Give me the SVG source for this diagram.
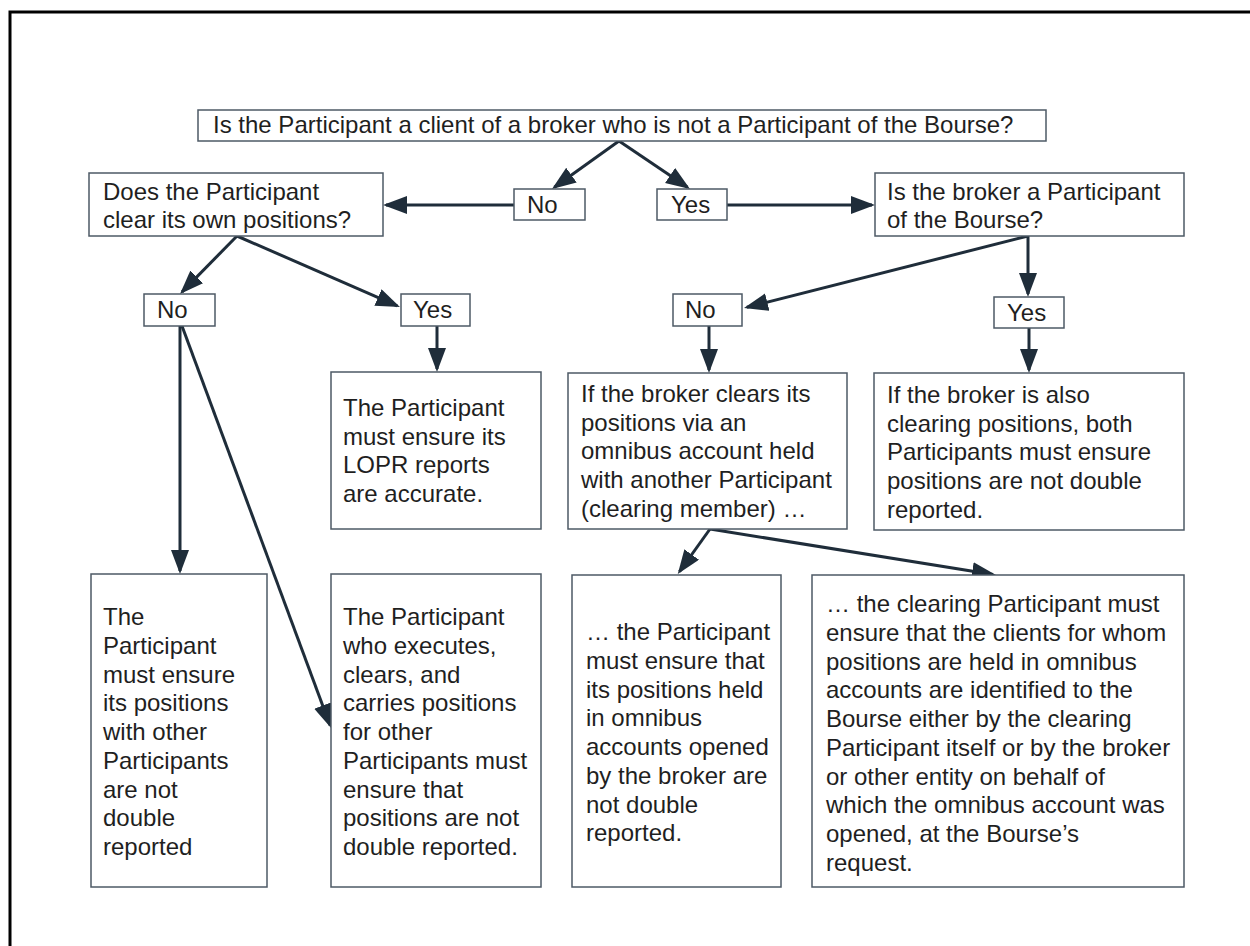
<svg xmlns="http://www.w3.org/2000/svg" width="1250" height="946" viewBox="0 0 1250 946">
<style>
.box{fill:#fff;stroke:#4d5a66;stroke-width:1.5}
.t{font-family:"Liberation Sans",Arial,sans-serif;font-size:24px;fill:#1f1f1f}
.c{fill:none;stroke:#1f2d3a;stroke-width:3}
</style>
<defs>
<marker id="ah" markerUnits="userSpaceOnUse" markerWidth="26" markerHeight="20" refX="21" refY="9" orient="auto">
<path d="M0,0 L24,9 L0,18 z" fill="#1f2d3a"/>
</marker>
</defs>
<rect x="0" y="0" width="1250" height="946" fill="#fff"/>
<rect x="10" y="12" width="1260" height="960" fill="none" stroke="#000" stroke-width="3"/>

<g id="connectors">
<line class="c" x1="619" y1="141" x2="554.4" y2="187.3" marker-end="url(#ah)"/>
<line class="c" x1="619" y1="141" x2="687.5" y2="187.3" marker-end="url(#ah)"/>
<line class="c" x1="514" y1="205" x2="386" y2="205" marker-end="url(#ah)"/>
<line class="c" x1="727" y1="205" x2="872" y2="205" marker-end="url(#ah)"/>
<line class="c" x1="1028" y1="236" x2="1028" y2="294" marker-end="url(#ah)"/>
<line class="c" x1="1028" y1="236" x2="746.9" y2="307.3" marker-end="url(#ah)"/>
<line class="c" x1="1029" y1="328" x2="1029" y2="370" marker-end="url(#ah)"/>
<line class="c" x1="709" y1="326" x2="709" y2="370" marker-end="url(#ah)"/>
<line class="c" x1="237" y1="236" x2="182.1" y2="291.9" marker-end="url(#ah)"/>
<line class="c" x1="237" y1="236" x2="397.2" y2="305.8" marker-end="url(#ah)"/>
<line class="c" x1="437" y1="326" x2="437" y2="369" marker-end="url(#ah)"/>
<line class="c" x1="180" y1="326" x2="180" y2="571" marker-end="url(#ah)"/>
<line class="c" x1="182" y1="326" x2="330" y2="725.2" marker-end="url(#ah)"/>
<line class="c" x1="710" y1="529" x2="679.5" y2="571.6" marker-end="url(#ah)"/>
<line class="c" x1="710" y1="529" x2="993" y2="574.5" marker-end="url(#ah)"/>
</g>

<g id="q-top">
<rect class="box" x="198" y="110" width="848" height="31"/>
<text class="t" x="213" y="133">Is the Participant a client of a broker who is not a Participant of the Bourse?</text>
</g>

<g id="label-no-top">
<rect class="box" x="514" y="189" width="71" height="31"/>
<text class="t" x="527" y="213">No</text>
</g>
<g id="label-yes-top">
<rect class="box" x="657" y="189" width="70" height="31"/>
<text class="t" x="671" y="213">Yes</text>
</g>

<g id="q-clear">
<rect class="box" x="89" y="173" width="294" height="63"/>
<text class="t" x="103" y="200">Does the Participant<tspan x="103" dy="28">clear its own positions?</tspan></text>
</g>

<g id="q-broker">
<rect class="box" x="875" y="173" width="309" height="63"/>
<text class="t" x="887" y="200">Is the broker a Participant<tspan x="887" dy="28">of the Bourse?</tspan></text>
</g>

<g id="label-no-left">
<rect class="box" x="144" y="294" width="71" height="32"/>
<text class="t" x="157" y="318">No</text>
</g>
<g id="label-yes-left">
<rect class="box" x="401" y="294" width="69" height="32"/>
<text class="t" x="413" y="318">Yes</text>
</g>
<g id="label-no-right">
<rect class="box" x="673" y="294" width="69" height="32"/>
<text class="t" x="685" y="318">No</text>
</g>
<g id="label-yes-right">
<rect class="box" x="994" y="297" width="70" height="31"/>
<text class="t" x="1007" y="321">Yes</text>
</g>

<g id="r-lopr">
<rect class="box" x="331" y="372" width="210" height="157"/>
<text class="t" x="343" y="416">The Participant<tspan x="343" dy="28.7">must ensure its</tspan><tspan x="343" dy="28.7">LOPR reports</tspan><tspan x="343" dy="28.7">are accurate.</tspan></text>
</g>

<g id="q-omnibus">
<rect class="box" x="568" y="373" width="279" height="156"/>
<text class="t" x="581" y="402">If the broker clears its<tspan x="581" dy="28.7">positions via an</tspan><tspan x="581" dy="28.7">omnibus account held</tspan><tspan x="581" dy="28.7">with another Participant</tspan><tspan x="581" dy="28.7">(clearing member) …</tspan></text>
</g>

<g id="r-also-clearing">
<rect class="box" x="874" y="373" width="310" height="157"/>
<text class="t" x="887" y="403">If the broker is also<tspan x="887" dy="28.7">clearing positions, both</tspan><tspan x="887" dy="28.7">Participants must ensure</tspan><tspan x="887" dy="28.7">positions are not double</tspan><tspan x="887" dy="28.7">reported.</tspan></text>
</g>

<g id="r-own">
<rect class="box" x="91" y="574" width="176" height="313"/>
<text class="t" x="103" y="625">The<tspan x="103" dy="28.75">Participant</tspan><tspan x="103" dy="28.75">must ensure</tspan><tspan x="103" dy="28.75">its positions</tspan><tspan x="103" dy="28.75">with other</tspan><tspan x="103" dy="28.75">Participants</tspan><tspan x="103" dy="28.75">are not</tspan><tspan x="103" dy="28.75">double</tspan><tspan x="103" dy="28.75">reported</tspan></text>
</g>

<g id="r-executes">
<rect class="box" x="331" y="574" width="210" height="313"/>
<text class="t" x="343" y="625">The Participant<tspan x="343" dy="28.75">who executes,</tspan><tspan x="343" dy="28.75">clears, and</tspan><tspan x="343" dy="28.75">carries positions</tspan><tspan x="343" dy="28.75">for other</tspan><tspan x="343" dy="28.75">Participants must</tspan><tspan x="343" dy="28.75">ensure that</tspan><tspan x="343" dy="28.75">positions are not</tspan><tspan x="343" dy="28.75">double reported.</tspan></text>
</g>

<g id="r-omnibus-participant">
<rect class="box" x="572" y="575" width="209" height="312"/>
<text class="t" x="586" y="640">… the Participant<tspan x="586" dy="28.75">must ensure that</tspan><tspan x="586" dy="28.75">its positions held</tspan><tspan x="586" dy="28.75">in omnibus</tspan><tspan x="586" dy="28.75">accounts opened</tspan><tspan x="586" dy="28.75">by the broker are</tspan><tspan x="586" dy="28.75">not double</tspan><tspan x="586" dy="28.75">reported.</tspan></text>
</g>

<g id="r-clearing-participant">
<rect class="box" x="812" y="575" width="372" height="312"/>
<text class="t" x="826" y="612">… the clearing Participant must<tspan x="826" dy="28.75">ensure that the clients for whom</tspan><tspan x="826" dy="28.75">positions are held in omnibus</tspan><tspan x="826" dy="28.75">accounts are identified to the</tspan><tspan x="826" dy="28.75">Bourse either by the clearing</tspan><tspan x="826" dy="28.75">Participant itself or by the broker</tspan><tspan x="826" dy="28.75">or other entity on behalf of</tspan><tspan x="826" dy="28.75">which the omnibus account was</tspan><tspan x="826" dy="28.75">opened, at the Bourse’s</tspan><tspan x="826" dy="28.75">request.</tspan></text>
</g>
</svg>
